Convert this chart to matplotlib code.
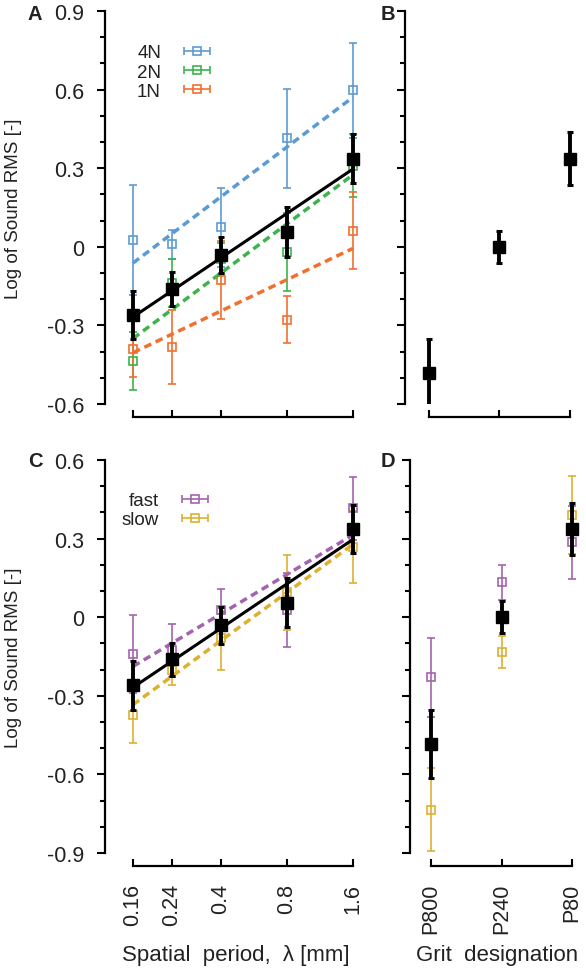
import matplotlib
matplotlib.use("agg")
import matplotlib.pyplot as plt
import numpy as np
from matplotlib.container import ErrorbarContainer
from matplotlib.legend_handler import HandlerErrorbar
from matplotlib.ticker import FuncFormatter, MultipleLocator, NullLocator

plt.rcParams["font.family"] = ["Liberation Sans", "DejaVu Sans"]

# --- data -----------------------------------------------------------------
period_mm = [0.16, 0.24, 0.4, 0.8, 1.6]
period_labels = ["0.16", "0.24", "0.4", "0.8", "1.6"]
fit_x = [0.16, 1.6]
grits = ["P800", "P240", "P80"]

# pooled over all conditions (black)
all_mean = [-0.26, -0.161, -0.031, 0.056, 0.337]
all_err = [0.093, 0.064, 0.07, 0.095, 0.093]
all_fit = [-0.268, 0.297]

# normal force (panel A)
force_labels = ["4N", "2N", "1N"]
force_colors = ["#5b9bd5", "#3cb44b", "#f07030"]
force_mean = [
    [0.025, 0.009, 0.074, 0.414, 0.597],
    [-0.435, -0.138, -0.045, -0.02, 0.31],
    [-0.39, -0.382, -0.126, -0.279, 0.062],
]
force_err = [
    [0.21, 0.057, 0.15, 0.19, 0.18],
    [0.11, 0.092, 0.06, 0.15, 0.12],
    [0.107, 0.14, 0.15, 0.09, 0.148],
]
force_fit = [[-0.062, 0.571], [-0.35, 0.275], [-0.404, -0.006]]

# scanning speed (panel C)
speed_labels = ["fast", "slow"]
speed_colors = ["#a463b0", "#deb030"]
speed_mean = [
    [-0.141, -0.127, 0.028, 0.028, 0.416],
    [-0.374, -0.2, -0.081, 0.095, 0.267],
]
speed_err = [
    [0.15, 0.1, 0.08, 0.14, 0.12],
    [0.107, 0.06, 0.12, 0.143, 0.137],
]
speed_fit = [[-0.188, 0.314], [-0.334, 0.278]]

# grit designation (panels B, D)
grit_mean = [-0.483, 0.0, 0.337]
grit_err = [0.13, 0.062, 0.1]
grit_speed_mean = [[-0.23, 0.133, 0.286], [-0.734, -0.133, 0.39]]
grit_speed_err = [[0.15, 0.067, 0.14], [0.158, 0.062, 0.15]]

# --- layout (pixel based) ------------------------------------------------
W, H = 586, 970
fig = plt.figure(figsize=(W / 100, H / 100), dpi=100)


def px_axes(left, top, right, bottom):
    return fig.add_axes([left / W, 1 - bottom / H, (right - left) / W, (bottom - top) / H])


def tick_fmt(v, _):
    return "0" if abs(v) < 1e-9 else f"{v:.1f}"


def style_axes(ax, ylim, xbounds, ylabels):
    ax.set_ylim(*ylim)
    for s in ("top", "right"):
        ax.spines[s].set_visible(False)
    ax.spines["left"].set_bounds(*ylim)
    ax.spines["bottom"].set_bounds(*xbounds)
    ax.spines["bottom"].set_position(("outward", 9.5))
    for s in ("left", "bottom"):
        ax.spines[s].set_linewidth(1.6)
    ax.yaxis.set_major_locator(MultipleLocator(0.3))
    ax.yaxis.set_minor_locator(MultipleLocator(0.1))
    ax.yaxis.set_major_formatter(FuncFormatter(tick_fmt))
    ax.tick_params(axis="y", which="major", direction="out", length=6, width=1.5,
                   labelsize=15.5, pad=9, labelleft=ylabels, colors="black",
                   labelcolor="#222222")
    ax.tick_params(axis="y", which="minor", direction="out", length=3.5, width=1.5)
    ax.tick_params(axis="x", which="major", direction="in", length=5, width=1.5,
                   labelsize=15.5, pad=12, labelrotation=90, labelcolor="#222222")
    ax.xaxis.set_minor_locator(NullLocator())
    ax.patch.set_visible(False)


def draw_black(ax, x, mean, err):
    ax.errorbar(x, mean, yerr=err, fmt="s", ms=8, color="black", ecolor="black",
                elinewidth=2.8, capsize=2.2, capthick=2.2, zorder=6)


def draw_open(ax, x, mean, err, color):
    return ax.errorbar(x, mean, yerr=err, fmt="s", ms=5.3, mfc="none", mec=color,
                       mew=1.2, ecolor=color, elinewidth=1.2, capsize=2.6,
                       capthick=1.2, color=color, zorder=3)


def add_legend(ax, containers, labels, top_px, left_px):
    proxies = [ErrorbarContainer(c.lines, has_xerr=True, has_yerr=False) for c in containers]
    leg = ax.legend(proxies, labels, loc="upper left",
                    bbox_to_anchor=(left_px / W, 1 - top_px / H),
                    bbox_transform=fig.transFigure, frameon=False, markerfirst=False,
                    fontsize=13.5, borderpad=0, borderaxespad=0, labelspacing=0.12,
                    handlelength=1.55, handletextpad=1.15,
                    handler_map={ErrorbarContainer: HandlerErrorbar(xerr_size=0.7)})
    for t in leg.get_texts():
        t.set_color("#222222")


px_per_decade = 220.0
x_left = 10 ** (np.log10(0.16) - 28 / px_per_decade)
x_right = 10 ** (np.log10(1.6) + 19 / px_per_decade)

ax_a = px_axes(105, 12, 372, 405)
ax_b = px_axes(405, 12, 585, 405)
ax_c = px_axes(105, 461, 372, 854)
ax_d = px_axes(410, 461, 585, 854)

for ax, ylim in ((ax_a, (-0.6, 0.9)), (ax_c, (-0.9, 0.6))):
    ax.set_xscale("log")
    ax.set_xlim(x_left, x_right)
    style_axes(ax, ylim, (0.16, 1.6), True)
    ax.set_xticks(period_mm, labels=period_labels)
    ax.xaxis.set_minor_locator(NullLocator())
    ax.set_ylabel("Log of Sound RMS [-]", fontsize=13.5, color="#222222")
    ax.yaxis.set_label_coords(-0.312, 0.5)

gx = np.arange(len(grits))
ax_b.set_xlim(-23.5 / 70.75, 156.5 / 70.75)
ax_d.set_xlim(-21 / 70.5, 154 / 70.5)
style_axes(ax_b, (-0.6, 0.9), (0, 2), False)
style_axes(ax_d, (-0.9, 0.6), (0, 2), False)
for ax in (ax_b, ax_d):
    ax.set_xticks(gx, labels=grits)

ax_a.tick_params(axis="x", labelbottom=False)
ax_b.tick_params(axis="x", labelbottom=False)

# panel A
cont_a = []
for mean, err, fit, color in zip(force_mean, force_err, force_fit, force_colors):
    cont_a.append(draw_open(ax_a, period_mm, mean, err, color))
    ax_a.plot(fit_x, fit, color=color, lw=2.5, dashes=(2.2, 1.4), zorder=4)
ax_a.plot(fit_x, all_fit, color="black", lw=2.2, zorder=5)
draw_black(ax_a, period_mm, all_mean, all_err)
add_legend(ax_a, cont_a, force_labels, 45, 137)

# panel B
draw_black(ax_b, gx, grit_mean, grit_err)

# panel C
cont_c = []
for mean, err, fit, color in zip(speed_mean, speed_err, speed_fit, speed_colors):
    cont_c.append(draw_open(ax_c, period_mm, mean, err, color))
    ax_c.plot(fit_x, fit, color=color, lw=2.5, dashes=(2.2, 1.4), zorder=4)
ax_c.plot(fit_x, all_fit, color="black", lw=2.2, zorder=5)
draw_black(ax_c, period_mm, all_mean, all_err)
add_legend(ax_c, cont_c, speed_labels, 493, 122)

# panel D
for mean, err, color in zip(grit_speed_mean, grit_speed_err, speed_colors):
    draw_open(ax_d, gx, mean, err, color)
draw_black(ax_d, gx, grit_mean, grit_err)

ax_c.set_xlabel("Spatial  period,  \u03bb [mm]", fontsize=16, color="#222222")
ax_c.xaxis.set_label_coords(0.49, -0.232)
ax_d.set_xlabel("Grit  designation", fontsize=16, color="#222222")
ax_d.xaxis.set_label_coords(0.5, -0.232)

for letter, xp, yp in (("A", 35, 14), ("B", 388, 14), ("C", 35, 462), ("D", 388, 462)):
    fig.text(xp / W, 1 - yp / H, letter, fontsize=14.5, fontweight="bold",
             ha="center", va="center", color="#222222")

fig.savefig("out.png", dpi=100)
